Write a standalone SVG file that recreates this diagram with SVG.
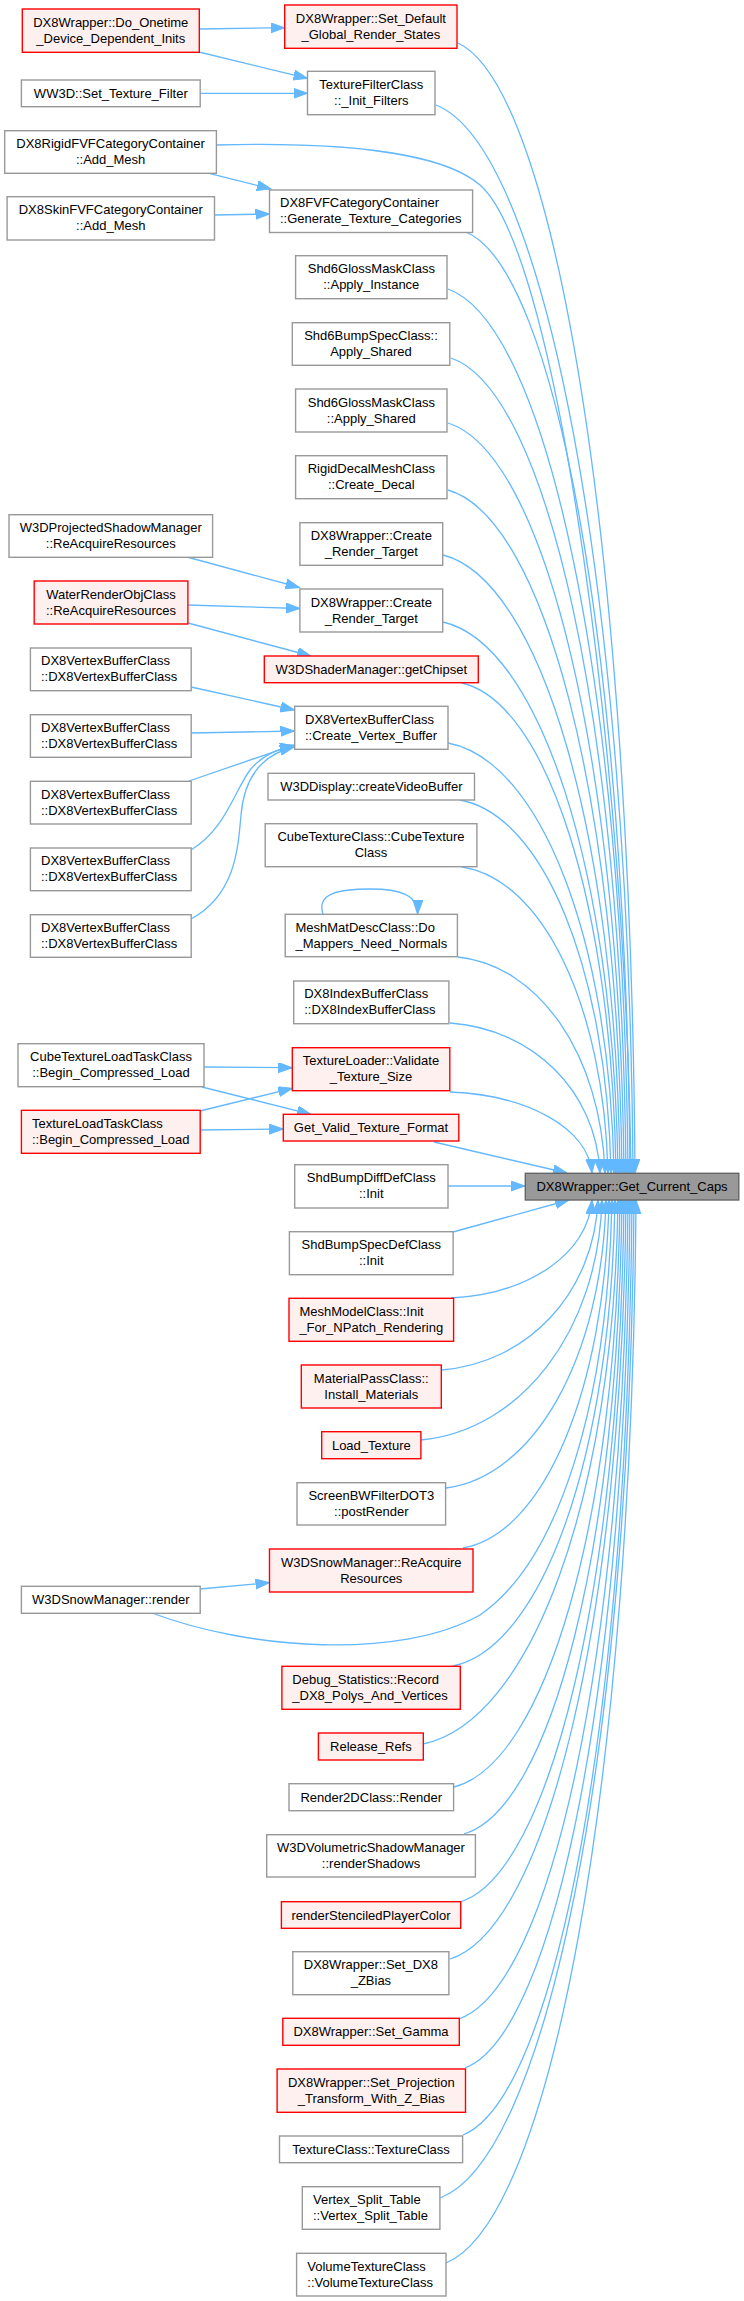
<svg xmlns="http://www.w3.org/2000/svg" width="744" height="2301" viewBox="0 0 744 2301">
<style>
rect{stroke-width:1.4}
.n{fill:#ffffff;stroke:#999999}
.r{fill:#fff0f0;stroke:#ff0000}
.t{fill:#999999;stroke:#666666}
text{font-family:"Liberation Sans",Arial,sans-serif;font-size:13px;fill:#000000}
.c{text-anchor:middle}
.l{text-anchor:start}
#edges path{fill:none;stroke:#63b8ff;stroke-width:1.3;marker-end:url(#ah)}
</style>
<defs>
<marker id="ah" markerUnits="userSpaceOnUse" markerWidth="16" markerHeight="12" refX="14" refY="5" orient="auto"><path d="M0,0 L14,5 L0,10 Z" fill="#63b8ff" stroke="#63b8ff" stroke-width="1"/></marker>
</defs>
<rect width="744" height="2301" fill="#ffffff"/>
<g id="edges">
<path d="M199,29 L284.7,27.7"/>
<path d="M199,52 L307.5,78.3"/>
<path d="M200,93.3 L307.5,93.3"/>
<path d="M209,173.3 L271,189"/>
<path d="M214.5,215 L269.5,214"/>
<path d="M187,557 L299.5,587.5"/>
<path d="M188,605 L300,608.5"/>
<path d="M188,623 L311,656"/>
<path d="M191,687 L294.5,710"/>
<path d="M191,733 L294.5,731"/>
<path d="M189,781 L294,745"/>
<path d="M191,850 C225,830 235,790 250,770 C262,755 280,748 294,746"/>
<path d="M191,919 C235,895 238,850 241,815 C244,780 260,755 294,747"/>
<path d="M204,1067 L292.3,1067.7"/>
<path d="M202,1087 L311,1114.3"/>
<path d="M200,1111 L292.3,1088.3"/>
<path d="M200,1130 L283.3,1129"/>
<path d="M200,1589 L269.5,1582.7"/>
<path d="M323,914 C316,893 340,889 370,889 C400,889 418,895 417.6,914"/>
<path d="M458,43 C555.4,88.2 631,551.5 635,1173"/>
<path d="M436,105 C544.4,147.7 629,585.6 633,1173"/>
<path d="M216,145 C330,142 440,150 480,185 C560,255 626,780 631,1173"/>
<path d="M466,232 C556.2,269.6 626,655.5 630,1173"/>
<path d="M448,289 C547,324.4 624,686.8 628,1173"/>
<path d="M451,358 C547.3,390.6 622,724.8 626,1173"/>
<path d="M448,423 C544.8,453 620,760.5 624,1173"/>
<path d="M448,490 C543.7,517.3 618,797.4 622,1173"/>
<path d="M443,555 C540.4,579.7 616,833.1 620,1173"/>
<path d="M443,622 C539.3,644 614,870 618,1173"/>
<path d="M462,683 C546.7,702.6 612,903.5 616,1173"/>
<path d="M448,743 C539.3,760.2 610,936.5 614,1173"/>
<path d="M460,800 C543,815 607,967.9 611,1173"/>
<path d="M462,867 C542.3,879.2 604,1004.7 608,1173"/>
<path d="M458,957 C538.9,965.6 601,1054.2 605,1173"/>
<path d="M450,1023 C532.5,1029 596,1090.5 600,1173"/>
<path d="M450,1092 C528,1095 588,1128.5 592,1173"/>
<path d="M434,1142 L567,1173"/>
<path d="M448,1186 L525,1186"/>
<path d="M453,1232 L569,1200"/>
<path d="M451,1298 C528.6,1294 588,1253.9 592,1200"/>
<path d="M441,1370 C527.4,1363.2 594,1293.5 598,1200"/>
<path d="M421,1440 C520.6,1430.4 598,1332 602,1200"/>
<path d="M446,1488 C534,1476.5 602,1358.4 606,1200"/>
<path d="M463,1548 C543.3,1534 605,1391.4 609,1200"/>
<path d="M152,1613 C250,1650 400,1660 480,1615 C560,1560 608,1400 612,1200"/>
<path d="M453,1666 C542.1,1647.4 611,1456.3 615,1200"/>
<path d="M423,1744 C530.3,1722.2 614,1499.2 618,1200"/>
<path d="M454,1787 C545.3,1763.5 616,1522.9 620,1200"/>
<path d="M464,1834 C550.9,1808.6 618,1548.7 622,1200"/>
<path d="M460,1902 C550.2,1873.9 620,1586.1 624,1200"/>
<path d="M450,1959 C546.8,1928.6 622,1617.5 626,1200"/>
<path d="M459,2019 C552,1986.2 624,1650.5 628,1200"/>
<path d="M465,2068 C555.8,2033.3 626,1677.4 630,1200"/>
<path d="M463,2135 C556,2097.6 628,1714.3 632,1200"/>
<path d="M440,2198 C546.7,2158.1 630,1748.9 634,1200"/>
<path d="M446,2263 C550.5,2220.5 632,1784.7 636,1200"/>
</g>
<g id="n1"><rect class="r" x="22.3" y="9" width="177" height="43.3"/><text class="c" x="110.8" y="26.7">DX8Wrapper::Do_Onetime</text><text class="c" x="110.8" y="42.7">_Device_Dependent_Inits</text></g>
<g id="n2"><rect class="r" x="284.7" y="5" width="172.3" height="43.3"/><text class="c" x="370.9" y="22.7">DX8Wrapper::Set_Default</text><text class="c" x="370.9" y="38.7">_Global_Render_States</text></g>
<g id="n3"><rect class="n" x="307.5" y="71.3" width="127.5" height="43.4"/><text class="c" x="371.3" y="89">TextureFilterClass</text><text class="c" x="371.3" y="105">::_Init_Filters</text></g>
<g id="n4"><rect class="n" x="21.4" y="80" width="178.8" height="26.7"/><text class="c" x="110.8" y="97.8">WW3D::Set_Texture_Filter</text></g>
<g id="n5"><rect class="n" x="4.7" y="130.7" width="211.7" height="42.6"/><text class="c" x="110.6" y="148">DX8RigidFVFCategoryContainer</text><text class="c" x="110.6" y="164">::Add_Mesh</text></g>
<g id="n6"><rect class="n" x="269.5" y="190" width="203.1" height="42.5"/><text class="l" x="280" y="207">DX8FVFCategoryContainer</text><text class="l" x="280" y="223">::Generate_Texture_Categories</text></g>
<g id="n7"><rect class="n" x="7.1" y="196.7" width="207.4" height="43.3"/><text class="c" x="110.8" y="214.3">DX8SkinFVFCategoryContainer</text><text class="c" x="110.8" y="230.3">::Add_Mesh</text></g>
<g id="n8"><rect class="n" x="295.6" y="255.7" width="151.4" height="43"/><text class="c" x="371.3" y="273.2">Shd6GlossMaskClass</text><text class="c" x="371.3" y="289.2">::Apply_Instance</text></g>
<g id="n9"><rect class="n" x="292.3" y="322.7" width="157.5" height="42.6"/><text class="c" x="371" y="340">Shd6BumpSpecClass::</text><text class="c" x="371" y="356">Apply_Shared</text></g>
<g id="n10"><rect class="n" x="295.6" y="389" width="151.4" height="43"/><text class="c" x="371.3" y="406.5">Shd6GlossMaskClass</text><text class="c" x="371.3" y="422.5">::Apply_Shared</text></g>
<g id="n11"><rect class="n" x="295.6" y="455.7" width="151.4" height="43"/><text class="c" x="371.3" y="473.2">RigidDecalMeshClass</text><text class="c" x="371.3" y="489.2">::Create_Decal</text></g>
<g id="n12"><rect class="n" x="299.9" y="522.7" width="142.8" height="42.6"/><text class="c" x="371.3" y="540">DX8Wrapper::Create</text><text class="c" x="371.3" y="556">_Render_Target</text></g>
<g id="n13"><rect class="n" x="9" y="514.7" width="203.6" height="42.6"/><text class="c" x="110.8" y="532">W3DProjectedShadowManager</text><text class="c" x="110.8" y="548">::ReAcquireResources</text></g>
<g id="n14"><rect class="r" x="34.2" y="581" width="153.7" height="43"/><text class="c" x="111" y="598.5">WaterRenderObjClass</text><text class="c" x="111" y="614.5">::ReAcquireResources</text></g>
<g id="n15"><rect class="n" x="299.9" y="589" width="142.8" height="43"/><text class="c" x="371.3" y="606.5">DX8Wrapper::Create</text><text class="c" x="371.3" y="622.5">_Render_Target</text></g>
<g id="n16"><rect class="r" x="264.3" y="656" width="214" height="26.7"/><text class="c" x="371.3" y="673.8">W3DShaderManager::getChipset</text></g>
<g id="n17"><rect class="n" x="30.4" y="648" width="160.8" height="42.7"/><text class="l" x="41" y="665.3">DX8VertexBufferClass</text><text class="l" x="41" y="681.3">::DX8VertexBufferClass</text></g>
<g id="n18"><rect class="n" x="294.7" y="706.3" width="153.3" height="43"/><text class="l" x="305" y="723.8">DX8VertexBufferClass</text><text class="l" x="305" y="739.8">::Create_Vertex_Buffer</text></g>
<g id="n19"><rect class="n" x="30.4" y="714.7" width="160.8" height="42.6"/><text class="l" x="41" y="732">DX8VertexBufferClass</text><text class="l" x="41" y="748">::DX8VertexBufferClass</text></g>
<g id="n20"><rect class="n" x="30.4" y="781.3" width="160.8" height="42.7"/><text class="l" x="41" y="798.7">DX8VertexBufferClass</text><text class="l" x="41" y="814.7">::DX8VertexBufferClass</text></g>
<g id="n21"><rect class="n" x="268" y="773.3" width="206.5" height="26.7"/><text class="c" x="371.3" y="791.2">W3DDisplay::createVideoBuffer</text></g>
<g id="n22"><rect class="n" x="30.4" y="848" width="160.8" height="42.7"/><text class="l" x="41" y="865.3">DX8VertexBufferClass</text><text class="l" x="41" y="881.3">::DX8VertexBufferClass</text></g>
<g id="n23"><rect class="n" x="265.2" y="823.7" width="211.7" height="43"/><text class="c" x="371" y="841.2">CubeTextureClass::CubeTexture</text><text class="c" x="371" y="857.2">Class</text></g>
<g id="n24"><rect class="n" x="30.4" y="914.7" width="160.8" height="42.6"/><text class="l" x="41" y="932">DX8VertexBufferClass</text><text class="l" x="41" y="948">::DX8VertexBufferClass</text></g>
<g id="n25"><rect class="n" x="285.2" y="914.3" width="172.2" height="42.4"/><text class="l" x="295.5" y="931.5">MeshMatDescClass::Do</text><text class="l" x="295.5" y="947.5">_Mappers_Need_Normals</text></g>
<g id="n26"><rect class="n" x="293.7" y="981" width="155.2" height="42.7"/><text class="l" x="304.2" y="998.3">DX8IndexBufferClass</text><text class="l" x="304.2" y="1014.3">::DX8IndexBufferClass</text></g>
<g id="n27"><rect class="n" x="18" y="1043.7" width="186" height="43"/><text class="c" x="111" y="1061.2">CubeTextureLoadTaskClass</text><text class="c" x="111" y="1077.2">::Begin_Compressed_Load</text></g>
<g id="n28"><rect class="r" x="292.3" y="1047.7" width="157.5" height="43"/><text class="c" x="371" y="1065.2">TextureLoader::Validate</text><text class="c" x="371" y="1081.2">_Texture_Size</text></g>
<g id="n29"><rect class="r" x="21.4" y="1110.3" width="178.8" height="43"/><text class="l" x="32" y="1127.8">TextureLoadTaskClass</text><text class="l" x="32" y="1143.8">::Begin_Compressed_Load</text></g>
<g id="n30"><rect class="r" x="283.3" y="1114.3" width="175.5" height="26.7"/><text class="c" x="371" y="1132.2">Get_Valid_Texture_Format</text></g>
<g id="n31"><rect class="t" x="525.3" y="1173.3" width="213.5" height="26.7"/><text class="c" x="632" y="1191.2">DX8Wrapper::Get_Current_Caps</text></g>
<g id="n32"><rect class="n" x="294.7" y="1164.7" width="153.3" height="43.3"/><text class="c" x="371.3" y="1182.3">ShdBumpDiffDefClass</text><text class="c" x="371.3" y="1198.3">::Init</text></g>
<g id="n33"><rect class="n" x="289.4" y="1231.7" width="163.7" height="43"/><text class="c" x="371.3" y="1249.2">ShdBumpSpecDefClass</text><text class="c" x="371.3" y="1265.2">::Init</text></g>
<g id="n34"><rect class="r" x="289" y="1298.3" width="164.6" height="43"/><text class="l" x="299.4" y="1315.8">MeshModelClass::Init</text><text class="l" x="299.4" y="1331.8">_For_NPatch_Rendering</text></g>
<g id="n35"><rect class="r" x="301.3" y="1365" width="140" height="43"/><text class="c" x="371.3" y="1382.5">MaterialPassClass::</text><text class="c" x="371.3" y="1398.5">Install_Materials</text></g>
<g id="n36"><rect class="r" x="321.7" y="1431.7" width="99.2" height="27"/><text class="c" x="371.3" y="1449.7">Load_Texture</text></g>
<g id="n37"><rect class="n" x="297" y="1482.7" width="148.6" height="42.3"/><text class="c" x="371.3" y="1499.8">ScreenBWFilterDOT3</text><text class="c" x="371.3" y="1515.8">::postRender</text></g>
<g id="n38"><rect class="r" x="269.5" y="1549" width="203.5" height="43"/><text class="c" x="371.3" y="1566.5">W3DSnowManager::ReAcquire</text><text class="c" x="371.3" y="1582.5">Resources</text></g>
<g id="n39"><rect class="n" x="21.4" y="1586.3" width="178.8" height="27"/><text class="c" x="110.8" y="1604.3">W3DSnowManager::render</text></g>
<g id="n40"><rect class="r" x="281.9" y="1666.3" width="178.4" height="43"/><text class="l" x="292.3" y="1683.8">Debug_Statistics::Record</text><text class="l" x="292.3" y="1699.8">_DX8_Polys_And_Vertices</text></g>
<g id="n41"><rect class="r" x="318.4" y="1733" width="104.9" height="27"/><text class="c" x="370.9" y="1751">Release_Refs</text></g>
<g id="n42"><rect class="n" x="289" y="1783.7" width="164.6" height="27"/><text class="c" x="371.3" y="1801.7">Render2DClass::Render</text></g>
<g id="n43"><rect class="n" x="266.7" y="1834.7" width="208.7" height="42.3"/><text class="c" x="371" y="1851.8">W3DVolumetricShadowManager</text><text class="c" x="371" y="1867.8">::renderShadows</text></g>
<g id="n44"><rect class="r" x="281.4" y="1901.7" width="179.3" height="26.6"/><text class="c" x="371" y="1919.5">renderStenciledPlayerColor</text></g>
<g id="n45"><rect class="n" x="292.8" y="1951.7" width="156.1" height="43"/><text class="c" x="370.9" y="1969.2">DX8Wrapper::Set_DX8</text><text class="c" x="370.9" y="1985.2">_ZBias</text></g>
<g id="n46"><rect class="r" x="282.8" y="2018.3" width="176.5" height="27"/><text class="c" x="371" y="2036.3">DX8Wrapper::Set_Gamma</text></g>
<g id="n47"><rect class="r" x="277.1" y="2069" width="188.4" height="43.3"/><text class="c" x="371.3" y="2086.7">DX8Wrapper::Set_Projection</text><text class="c" x="371.3" y="2102.7">_Transform_With_Z_Bias</text></g>
<g id="n48"><rect class="n" x="279.5" y="2136" width="183.1" height="26.7"/><text class="c" x="371" y="2153.8">TextureClass::TextureClass</text></g>
<g id="n49"><rect class="n" x="302.3" y="2186.7" width="137.6" height="42.6"/><text class="l" x="313" y="2204">Vertex_Split_Table</text><text class="l" x="313" y="2220">::Vertex_Split_Table</text></g>
<g id="n50"><rect class="n" x="296.6" y="2253.3" width="149.4" height="42.7"/><text class="l" x="307.3" y="2270.7">VolumeTextureClass</text><text class="l" x="307.3" y="2286.7">::VolumeTextureClass</text></g>
</svg>
